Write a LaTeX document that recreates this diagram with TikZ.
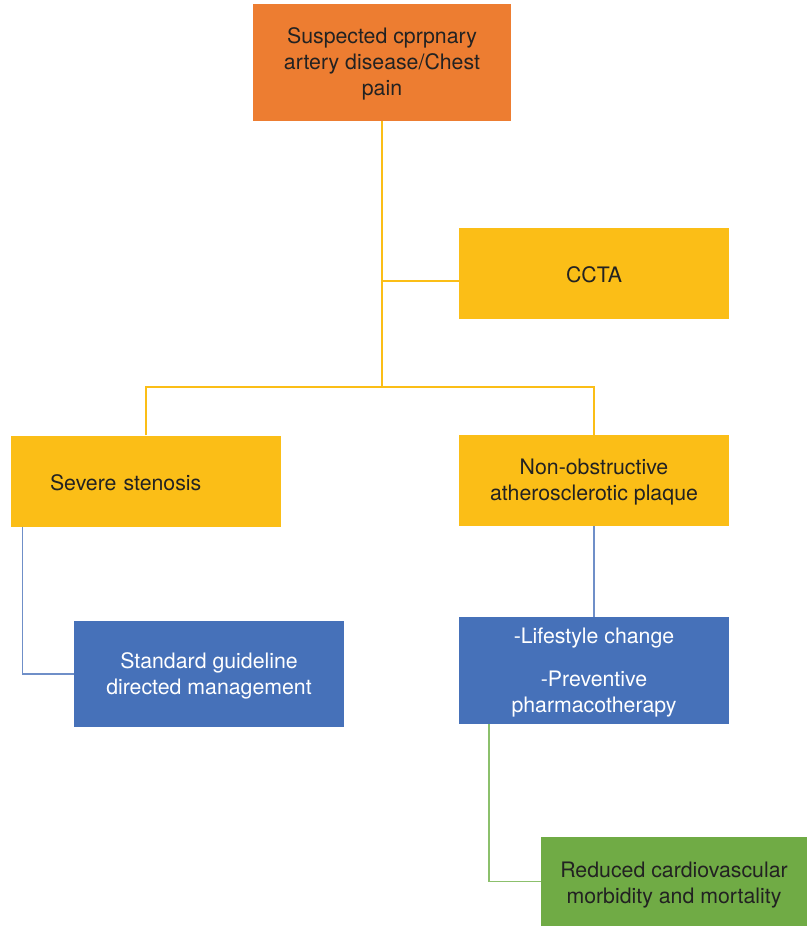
\documentclass[tikz,border=0pt]{standalone}
\usepackage{fontspec}
\setmainfont{TeX Gyre Heros}
\usetikzlibrary{calc}
\definecolor{cOrange}{HTML}{ED7D31}
\definecolor{cYellow}{HTML}{FBBE17}
\definecolor{cBlue}{HTML}{4671B9}
\definecolor{cGreen}{HTML}{70AB45}
\definecolor{cText}{HTML}{222222}
\definecolor{cBlueLine}{HTML}{6F8FC8}
\definecolor{cGreenLine}{HTML}{8CC06C}
\newcommand\myStrutA{\rule{0pt}{19.5pt}}
\newcommand\myStrutB{\rule{0pt}{23.5pt}}
\newcommand\myStrutC{\rule{0pt}{17.5pt}}
\begin{document}
\begin{tikzpicture}[x=1pt,y=1pt,
  box/.style={rectangle, inner sep=0pt, align=center,
    font=\fontsize{21.3}{26}\selectfont},
  ylink/.style={draw=cYellow, line width=2.4pt},
  blink/.style={draw=cBlueLine, line width=1.2pt},
  glink/.style={draw=cGreenLine, line width=1.6pt}]
\useasboundingbox (0,0) rectangle (807,-926);
\node[box, fill=cOrange, text=cText, minimum width=258, minimum height=117]
  (top) at (382,-62.5) {\myStrutA Suspected cprpnary\\artery disease/Chest\\pain};
\node[box, fill=cYellow, text=cText, minimum width=270, minimum height=91]
  (ccta) at (594,-273.5) {\myStrutC CCTA};
\node[box, fill=cYellow, text=cText, minimum height=91, text width=192,
  inner xsep=39pt, align=left]
  (severe) at (146,-481) {\myStrutA Severe stenosis};
\node[box, fill=cYellow, text=cText, minimum width=270, minimum height=91]
  (nonob) at (594,-480.5) {\myStrutA Non-obstructive\\atherosclerotic plaque};
\node[box, fill=cBlue, text=white, minimum width=270, minimum height=106]
  (std) at (209,-674) {\myStrutA Standard guideline\\directed management};
\node[box, fill=cBlue, text=white, minimum width=270, minimum height=107]
  (life) at (594,-670.5) {\myStrutA -Lifestyle change\\[17pt]-Preventive\\pharmacotherapy};
\node[box, fill=cGreen, text=cText, minimum width=266, minimum height=89]
  (red) at (674,-881.5) {\myStrutB Reduced cardiovascular\\morbidity and mortality};
\coordinate (jc) at (382,-281);
\coordinate (jb) at (382,-387);
\draw[ylink] (top.south) -- (jb);
\draw[ylink] (jc) -- (jc -| ccta.west);
\draw[ylink] (severe.north) |- (jb) -| (nonob.north);
\draw[blink] ($(severe.south west)+(12,0)$) |- (std.west);
\draw[blink] (nonob.south) -- (life.north);
\draw[glink] ($(life.south west)+(30,0)$) |- (red.west);
\end{tikzpicture}
\end{document}
